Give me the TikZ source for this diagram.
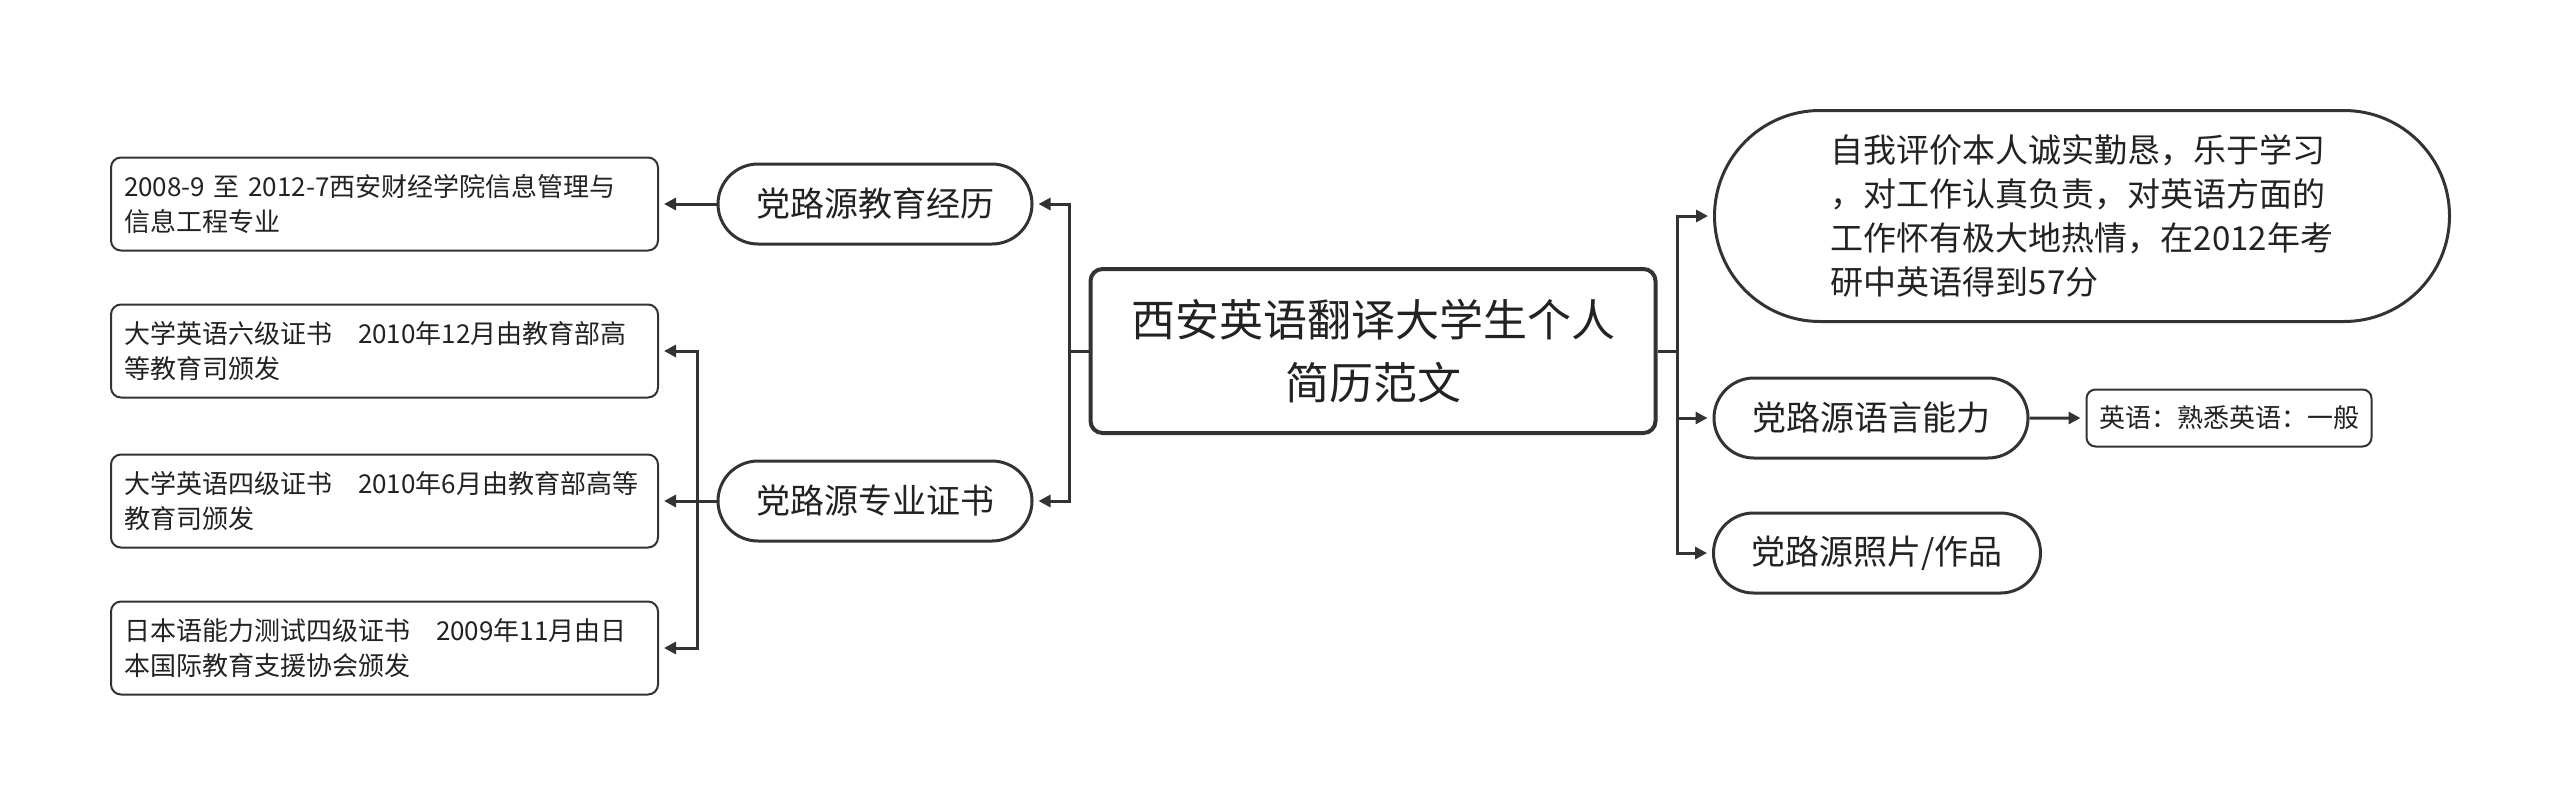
\documentclass[tikz,border=0pt]{standalone}
\usepackage{fontspec}
\setmainfont{Noto Sans CJK SC}
\usetikzlibrary{shapes.misc,arrows.meta}
\definecolor{ln}{HTML}{333333}
\definecolor{tx}{HTML}{222222}
\begin{document}
\begin{tikzpicture}[x=1pt,y=-1pt,
  conn/.style={draw=ln,line width=3pt},
  arr/.style={conn,-{Triangle[length=12pt,width=12pt]},shorten >=5pt},
  cbox/.style={draw=ln,line width=4pt,rounded corners=12pt,fill=white,text=tx,
    minimum width=565pt,minimum height=164pt,align=center,inner sep=0pt,
    font=\fontsize{44}{63}\selectfont},
  pill/.style={draw=ln,line width=3pt,rounded rectangle,fill=white,text=tx,
    minimum width=314pt,minimum height=80pt,inner sep=0pt,
    font=\fontsize{34}{40}\selectfont},
  leaf/.style={draw=ln,line width=2pt,rounded corners=10pt,fill=white,text=tx,
    minimum width=547pt,minimum height=93pt,inner sep=0pt,
    text width=521pt,align=left,font=\fontsize{26}{35}\selectfont},
  bigpill/.style={draw=ln,line width=3pt,rounded rectangle,fill=white,text=tx,
    minimum width=735pt,minimum height=211pt,inner sep=0pt,align=left,
    font=\fontsize{33}{44}\selectfont},
  small/.style={draw=ln,line width=2pt,rounded corners=9pt,fill=white,text=tx,
    minimum width=285pt,minimum height=57pt,inner sep=0pt,
    font=\fontsize{26}{32}\selectfont}
]
\useasboundingbox (0,0) rectangle (2560,807);

\node[cbox] (c) at (1373,351) {西安英语翻译大学生个人\\简历范文};

\node[pill] (l1) at (875,204) {党路源教育经历};
\node[pill] (l2) at (875,501) {党路源专业证书};

\node[leaf] (b1) at (384.5,204) {2008-9 至 2012-7西安财经学院信息管理与\\信息工程专业};
\node[leaf] (b2) at (384.5,351) {大学英语六级证书　2010年12月由教育部高\\等教育司颁发};
\node[leaf] (b3) at (384.5,501) {大学英语四级证书　2010年6月由教育部高等\\教育司颁发};
\node[leaf] (b4) at (384.5,648) {日本语能力测试四级证书　2009年11月由日\\本国际教育支援协会颁发};

\node[bigpill] (r1) at (2082,216) {自我评价本人诚实勤恳，乐于学习\\，对工作认真负责，对英语方面的\\工作怀有极大地热情，在2012年考\\研中英语得到57分};
\node[pill] (r2) at (1871,418) {党路源语言能力};
\node[pill,minimum width=327pt] (r3) at (1877,553) {党路源照片/作品};
\node[small] (r2a) at (2229,418) {英语：熟悉英语：一般};

\coordinate (jl) at (1069,351);
\coordinate (j2) at (697,501);
\coordinate (jr) at (1677,351);

\draw[conn] (c.west) -- (jl);
\draw[arr] (jl) |- (l1);
\draw[arr] (jl) |- (l2);

\draw[arr] (l1) -- (b1);

\draw[conn] (l2.west) -- (j2);
\draw[arr] (j2) |- (b2);
\draw[arr] (j2) -- (b3);
\draw[arr] (j2) |- (b4);

\draw[conn] (c.east) -- (jr);
\draw[arr] (jr) |- (r1);
\draw[arr] (jr) |- (r2);
\draw[arr] (jr) |- (r3);

\draw[arr] (r2) -- (r2a);
\end{tikzpicture}
\end{document}
